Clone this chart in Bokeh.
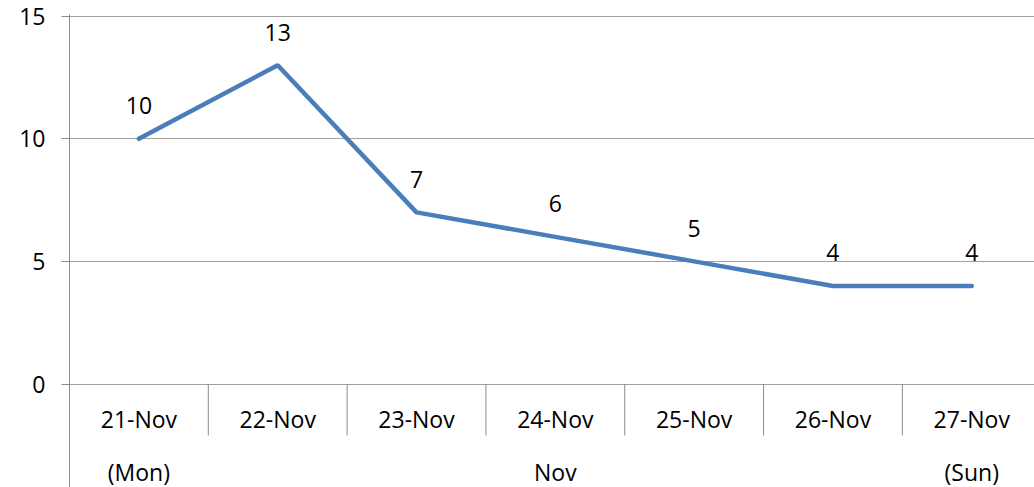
from bokeh.plotting import figure
from bokeh.models import Range1d, FixedTicker, ColumnDataSource
from bokeh.core.properties import value
from bokeh.embed import file_html
from bokeh.resources import INLINE

# ---- data ----
categories = ["21-Nov", "22-Nov", "23-Nov", "24-Nov", "25-Nov", "26-Nov", "27-Nov"]
values = [10, 13, 7, 6, 5, 4, 4]
y_ticks = [0, 5, 10, 15]
group_label = "Nov"
first_day_label = "(Mon)"
last_day_label = "(Sun)"

FONT = "Open Sans"
FS = "23px"
GRID = "#a0a0a0"
AXIS = "#8c8c8c"
BLUE = "#4a7ebb"

n = len(categories)
xs = [i + 0.5 for i in range(n)]

p = figure(width=1034, height=487, output_backend="svg", toolbar_location=None,
           x_range=Range1d(0, 6.952), y_range=Range1d(-4.221, 15.07),
           x_axis_type=None,
           min_border_left=69, min_border_right=0, min_border_top=14, min_border_bottom=0)
p.outline_line_color = None
p.background_fill_color = "white"
p.border_fill_color = "white"

# y axis
p.yaxis.ticker = FixedTicker(ticks=y_ticks, minor_ticks=[])
p.yaxis.axis_line_color = AXIS
p.yaxis.major_tick_line_color = AXIS
p.yaxis.major_tick_in = 0
p.yaxis.major_tick_out = 8
p.yaxis.minor_tick_line_color = None
p.yaxis.major_label_standoff = 16
p.yaxis.major_label_text_font = FONT
p.yaxis.major_label_text_font_size = FS
p.yaxis.major_label_text_color = "#000000"

p.ygrid.ticker = FixedTicker(ticks=y_ticks)
p.ygrid.grid_line_color = GRID
p.ygrid.grid_line_width = 1

# category dividers
div_x = list(range(1, n))
p.segment(x0=div_x, y0=[0] * len(div_x), x1=div_x, y1=[-2.1] * len(div_x),
          line_color=AXIS, line_width=1)

# category labels
p.text(x=xs, y=[-1.41] * n, text=categories, text_align="center", text_baseline="middle",
       text_font=value(FONT), text_font_size=FS, text_color="#000000")
p.text(x=[xs[0], n / 2, xs[-1]], y=[-3.6] * 3,
       text=[first_day_label, group_label, last_day_label],
       text_align="center", text_baseline="middle",
       text_font=value(FONT), text_font_size=FS, text_color="#000000")

# data line
p.line(xs, values, line_color=BLUE, line_width=4.5, line_cap="round")

# data labels
src = ColumnDataSource(dict(x=xs, y=values, t=[str(v) for v in values]))
p.text(x="x", y="y", text="t", source=src, y_offset=-33, text_align="center",
       text_baseline="middle", text_font=value(FONT), text_font_size=FS, text_color="#000000")

open("out.html", "w").write(file_html(p, INLINE))
